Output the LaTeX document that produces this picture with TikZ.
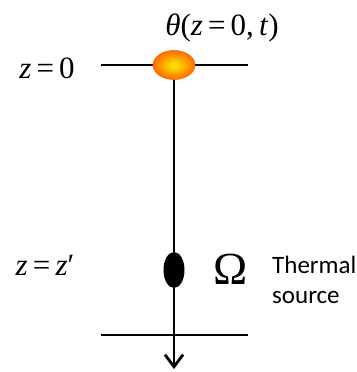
\documentclass[tikz,border=0pt]{standalone}
\usepackage{fontspec}
\setmainfont{Liberation Serif}
\newfontfamily\notefont{Carlito}
\usetikzlibrary{arrows.meta, shapes.geometric, positioning}

\begin{document}
\begin{tikzpicture}[
        x=1pt, y=-1pt,
        axisline/.style={line width=1.6pt},
        eqlabel/.style={inner sep=0pt, font=\fontsize{31}{36}\selectfont},
        hotspot/.style={ellipse, minimum width=42pt, minimum height=29pt, inner sep=0pt,
            shading=radial, inner color=yellow!85!orange, outer color=orange!85!red,
            draw=orange!75!red, line width=0.6pt},
        heatsrc/.style={ellipse, minimum width=21pt, minimum height=36pt, inner sep=0pt, fill=black},
        note/.style={inner sep=0pt, align=left, font=\notefont\fontsize{25}{30}\selectfont}
    ]
        \useasboundingbox (0,0) rectangle (356,372);
        % Coordinates
        \coordinate (origin) at (174,65);
        \coordinate (srcpos) at (174,270);
        \coordinate (axisend) at (174,369);
        \coordinate (topL) at (101,65);
        \coordinate (topR) at (248,65);
        \coordinate (botL) at (101,335);
        \coordinate (botR) at (248,335);

        % Lines
        \draw[axisline] (topL) -- (topR);
        \draw[axisline] (botL) -- (botR);
        \draw[axisline, -{Straight Barb[length=12pt, width=18pt, line width=2.8pt]}] (origin) -- (axisend);

        % Nodes
        \node[hotspot] (surface) at (origin) {};
        \node[heatsrc] (source) at (srcpos) {};
        \node[eqlabel] (theta) at (222,28) {\textit{θ}(\textit{z}\,=\,0,\,\textit{t})};
        \node[eqlabel] (ztop) at (47,68) {\textit{z}\,=\,0};
        \node[eqlabel] (zsrc) at (45,265) {\textit{z}\,=\,\textit{z}′};
        \node[inner sep=0pt, font=\fontsize{46}{50}\selectfont] (omega) at (231,269) {Ω};
        \node[note, anchor=west] (thermal) at (272,280) {Thermal\\source};
    \end{tikzpicture}
\end{document}
